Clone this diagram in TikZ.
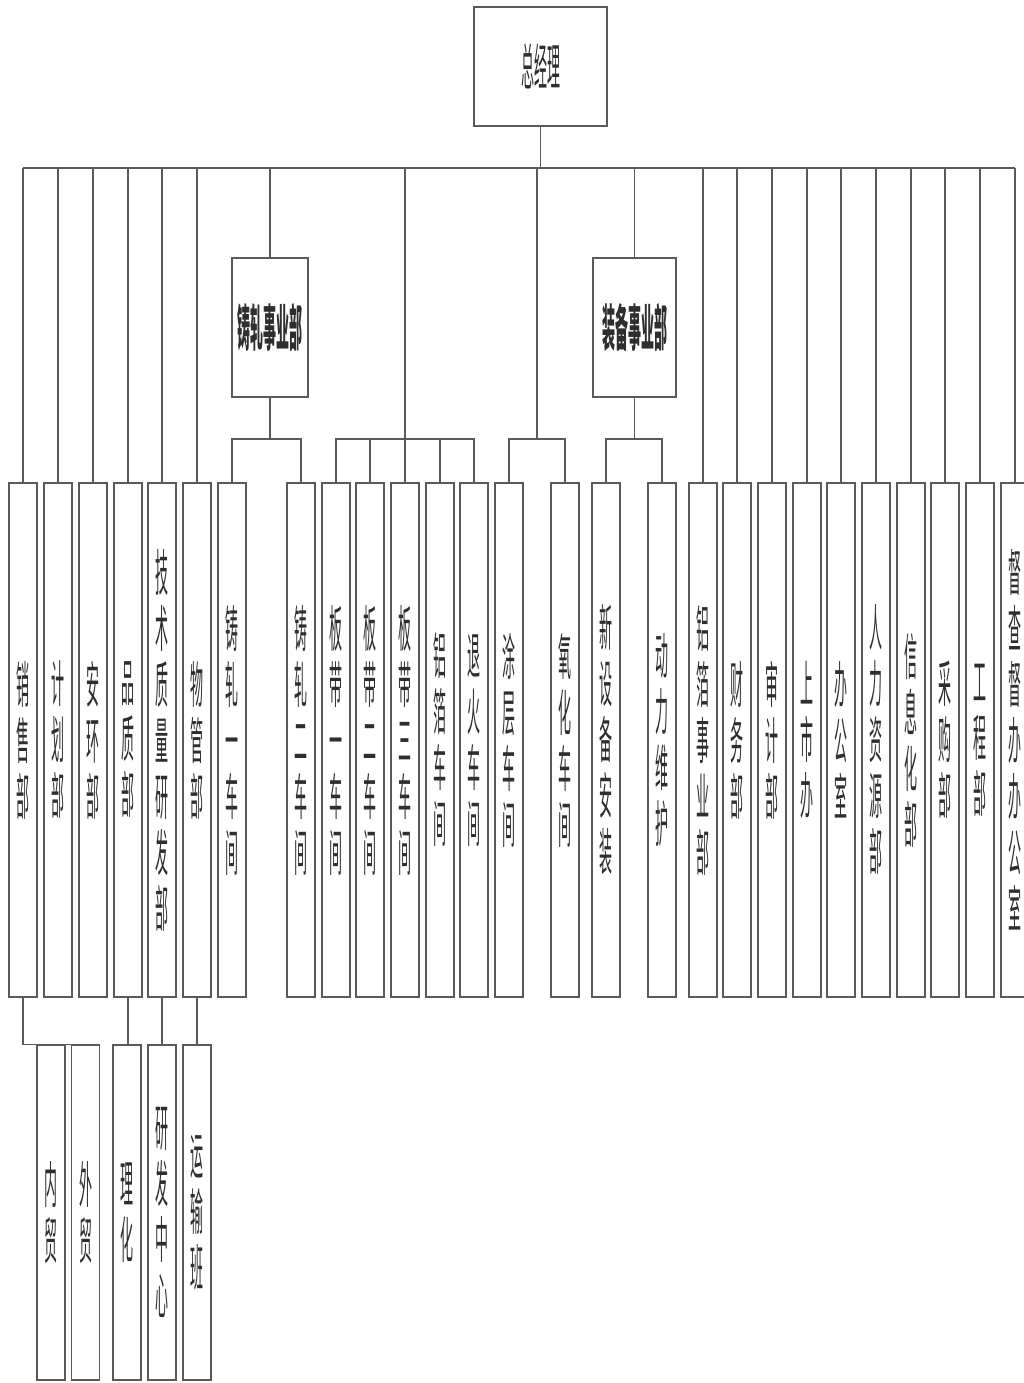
\documentclass[tikz,border=0pt]{standalone}
\usepackage{fontspec}
\usepackage{tikz}
\usetikzlibrary{positioning, calc}
\newfontfamily\cjk[FakeStretch=0.26]{Noto Sans CJK SC}
\definecolor{linha}{HTML}{5A5A5A}
\definecolor{texto}{HTML}{2E2E2E}
\tikzset{
  caixa/.style={draw=linha, line width=1.6pt, fill=white, inner sep=0pt,
    text=texto, align=center, font=\cjk\fontsize{50}{56}\selectfont},
  deptbox/.style={caixa, minimum width=28pt, minimum height=514pt},
  subbox/.style={caixa, minimum width=28pt, minimum height=335pt},
  divbox/.style={caixa, minimum height=139pt},
  lig/.style={draw=linha, line width=1.3pt},
}

\begin{document}
\begin{tikzpicture}[x=1pt, y=-1pt]
    \useasboundingbox (0,0) rectangle (1024,1383);

    \node[caixa, minimum width=133pt, minimum height=119pt] (gm) at (540.5,66.5) {总经理};

    \coordinate (busL) at (23,168);
    \coordinate (gbus) at (0,439);
    \coordinate (tyj) at (537,168);

    % divisões
    \node[divbox, minimum width=76pt] (zzsyb) at (270,327.5) {\bfseries 铸轧事业部};
    \node[divbox, minimum width=83pt] (zbsyb) at (634.5,327.5) {\bfseries 装备事业部};

    % fila principal
    \foreach \n/\x/\t in {xs/23/{销\\售\\部}, jh/58/{计\\划\\部}, ah/93/{安\\环\\部},
        pz/128/{品\\质\\部}, js/162/{技\\术\\质\\量\\研\\发\\部}, wg/197/{物\\管\\部},
        zz1/232/{铸\\轧\\一\\车\\间}, zz2/301/{铸\\轧\\二\\车\\间},
        bd1/336/{板\\带\\一\\车\\间}, bd2/370/{板\\带\\二\\车\\间},
        bd3/405/{板\\带\\三\\车\\间}, lb/440/{铝\\箔\\车\\间}, th/474/{退\\火\\车\\间},
        tc/509/{涂\\层\\车\\间}, yh/565/{氧\\化\\车\\间}, xsb/606/{新\\设\\备\\安\\装},
        dl/662/{动\\力\\维\\护}, lbs/703/{铝\\箔\\事\\业\\部}, cw/737/{财\\务\\部},
        sj/772/{审\\计\\部}, ss/807/{上\\市\\办}, bgs/841/{办\\公\\室},
        rl/876/{人\\力\\资\\源\\部}, xx/911/{信\\息\\化\\部}, cg/945/{采\\购\\部},
        gc/980/{工\\程\\部}, dc/1015/{督\\查\\督\\办\\办\\公\\室}}
      \node[deptbox] (\n) at (\x,740) {\t};

    % segunda fila
    \foreach \n/\x/\t in {nm/51/{内\\贸}, wm/85.5/{外\\贸}, lh/127/{理\\化},
        yf/162/{研\\发\\中\\心}, ys/197/{运\\输\\班}}
      \node[subbox] (\n) at (\x,1212.5) {\t};

    % ligações
    \draw[lig] (busL) -- (busL -| dc.north);
    \draw[lig] (gm.south) -- (gm.south |- busL);
    \foreach \n in {xs,jh,ah,pz,js,wg,bd3,lbs,cw,sj,ss,bgs,rl,xx,cg,gc,dc,zzsyb,zbsyb}
      \draw[lig] (\n.north) -- (\n.north |- busL);

    \draw[lig] (zzsyb.south) -- (zzsyb.south |- gbus);
    \draw[lig] (zz1.north) -- (zz1.north |- gbus) -- (zz2.north |- gbus) -- (zz2.north);

    \draw[lig] (bd1.north) -- (bd1.north |- gbus) -- (th.north |- gbus) -- (th.north);
    \foreach \n in {bd2,lb}
      \draw[lig] (\n.north) -- (\n.north |- gbus);

    \draw[lig] (tyj) -- (tyj |- gbus);
    \draw[lig] (tc.north) -- (tc.north |- gbus) -- (yh.north |- gbus) -- (yh.north);

    \draw[lig] (zbsyb.south) -- (zbsyb.south |- gbus);
    \draw[lig] (xsb.north) -- (xsb.north |- gbus) -- (dl.north |- gbus) -- (dl.north);

    \draw[lig] (xs.south) |- (wm.north east);
    \draw[lig] (pz.south) -- (pz.south |- lh.north);
    \draw[lig] (js.south) -- (yf.north);
    \draw[lig] (wg.south) -- (ys.north);

\end{tikzpicture}
\end{document}
